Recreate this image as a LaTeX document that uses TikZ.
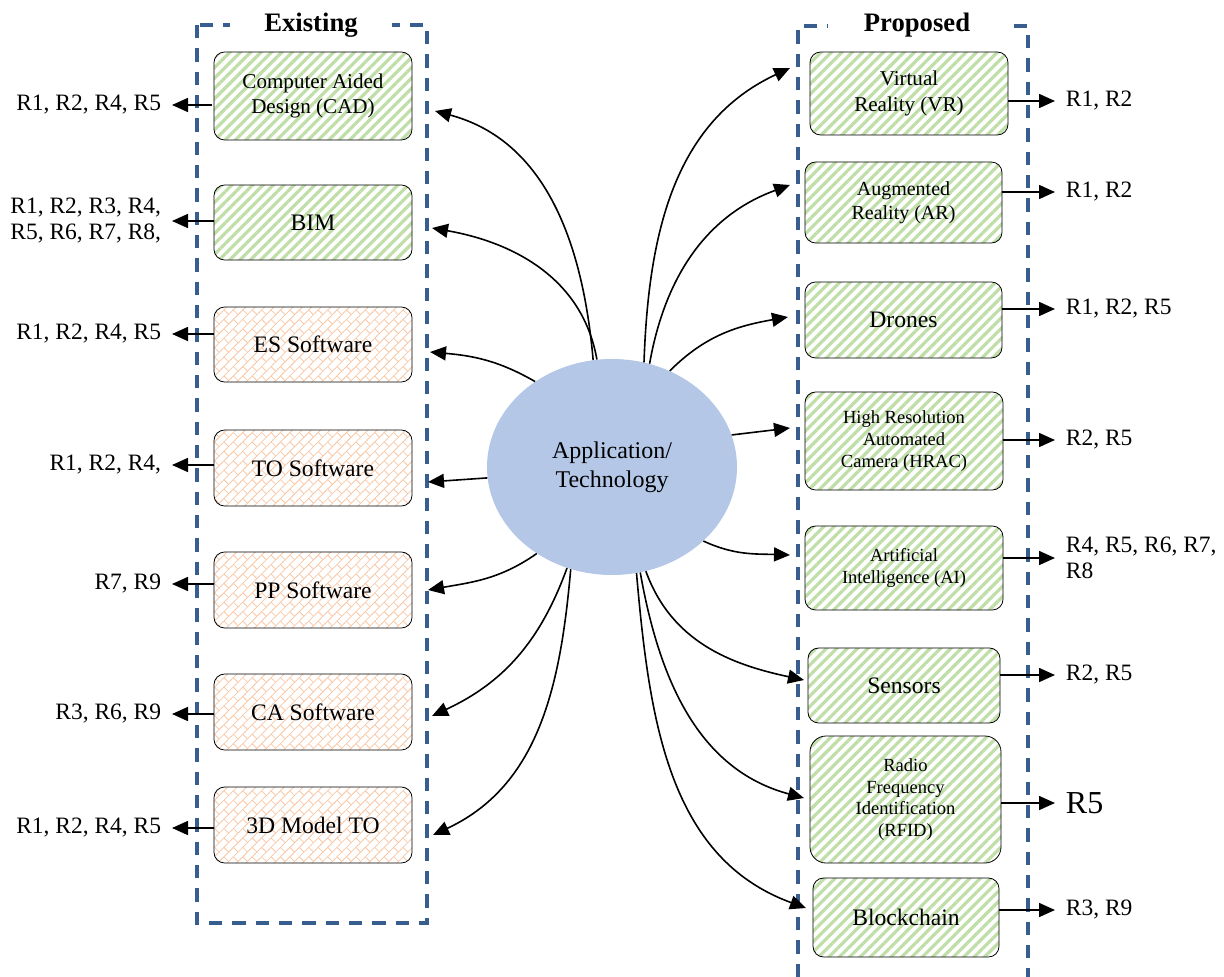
\documentclass[tikz,border=0pt]{standalone}
\usepackage{fontspec}
\setmainfont{Liberation Serif}
\usetikzlibrary{arrows.meta,patterns.meta,shapes.geometric}
\definecolor{stripegreen}{HTML}{BFDEA8}
\definecolor{brickorange}{HTML}{F8C9A8}
\definecolor{frameblue}{HTML}{385D8F}
\definecolor{ellblue}{HTML}{B4C7E7}
\newcommand\fsA{\rmfamily\fontsize{17.7pt}{20.5pt}\selectfont}
\newcommand\fsB{\rmfamily\fontsize{15.8pt}{18.8pt}\selectfont}
\newcommand\fsAR{\rmfamily\fontsize{15pt}{18pt}\selectfont}
\newcommand\fsC{\rmfamily\fontsize{13.9pt}{16.2pt}\selectfont}
\newcommand\fsL{\rmfamily\fontsize{17.6pt}{19.5pt}\selectfont}
\newcommand\fsE{\rmfamily\fontsize{18pt}{21.7pt}\selectfont}
\newcommand\fsBig{\rmfamily\fontsize{24pt}{28pt}\selectfont}
\newcommand\fsH{\rmfamily\fontsize{20pt}{24pt}\selectfont}
\tikzdeclarepattern{
  name=diagbrick,
  type=uncolored,
  bottom left={(-0.5pt,-0.5pt)},
  top right={(10.5pt,10.5pt)},
  tile size={(10pt,10pt)},
  tile transformation={rotate=45},
  code={
    \draw[line width=0.6pt] (-0.5pt,0pt) -- (10.5pt,0pt);
    \draw[line width=0.6pt] (-0.5pt,5pt) -- (10.5pt,5pt);
    \draw[line width=0.6pt] (2.5pt,0pt) -- (2.5pt,5pt);
    \draw[line width=0.6pt] (7.5pt,5pt) -- (7.5pt,10pt);
  }
}
\tikzset{
  wh/.style 2 args={minimum width=#1*0.75pt, minimum height=#2*0.75pt},
  gbox/.style={draw=black, line width=0.6pt, rounded corners=8pt,
    pattern={Lines[angle=45,distance=5.5pt,line width=2.4pt]}, pattern color=stripegreen,
    align=center, inner sep=0pt},
  obox/.style={draw=black, line width=0.6pt, rounded corners=8pt,
    pattern=diagbrick, pattern color=brickorange,
    align=center, inner sep=0pt, font=\fsA},
  lab/.style={font=\fsL, align=left, inner xsep=8pt, inner ysep=0pt},
  arr/.style={line width=1.2pt, -{Triangle[length=12pt,width=10.5pt]}},
  frame/.style={draw=frameblue, line width=2.3pt, dash pattern=on 10pt off 7.5pt},
  hdr/.style={fill=white, font=\fsH\bfseries, inner ysep=1pt, inner xsep=0pt},
}
\begin{document}
\begin{tikzpicture}[x=0.75pt,y=0.75pt]
\useasboundingbox (0,0) rectangle (1224,-977);
% frames
\draw[frame] (197,-25) rectangle (427,-923);
\draw[frame] (798,-977) -- (798,-26) -- (1028,-26) -- (1028,-977);
\node[hdr, anchor=base, minimum width=121.5pt] (hex) at (311,-32) {Existing};
\node[hdr, anchor=base, minimum width=134pt] (hpr) at (917,-32) {Proposed};
% left boxes
\node[gbox, wh={198}{88}, font=\fsB] (cad) at (313,-96) {Computer Aided\\Design (CAD)};
\node[gbox, wh={198}{75}, font=\fsA] (bim) at (313,-222.5) {BIM};
\node[obox, wh={198}{75}] (es) at (313,-344.5) {ES Software};
\node[obox, wh={198}{76}] (to) at (313,-468) {TO Software};
\node[obox, wh={198}{76}] (pp) at (313,-590) {PP Software};
\node[obox, wh={198}{76}] (ca) at (313,-712) {CA Software};
\node[obox, wh={198}{76}] (md) at (313,-825) {3D Model TO};
% right boxes
\node[gbox, wh={198}{83}, font=\fsB] (vr) at (909,-93.5) {Virtual\\Reality (VR)};
\node[gbox, wh={197}{81}, font=\fsAR] (ar) at (903.5,-202.5) {Augmented\\Reality (AR)};
\node[gbox, wh={197}{76}, font=\fsA] (dr) at (903.5,-320) {Drones};
\node[gbox, wh={198}{98}, font=\fsC] (hr) at (904,-441) {High Resolution\\Automated\\Camera (HRAC)};
\node[gbox, wh={198}{84}, font=\fsC] (ai) at (904,-568) {Artificial\\Intelligence (AI)};
\node[gbox, wh={192}{75}, font=\fsA] (se) at (904,-685.5) {Sensors};
\node[gbox, wh={191}{127}, font=\fsC, rounded corners=12pt] (rf) at (905.5,-799.5) {Radio\\Frequency\\Identification\\(RFID)};
\node[gbox, wh={186}{79}, font=\fsA] (bc) at (906,-917.5) {Blockchain};
% centre
\node[ellipse, fill=ellblue, minimum width=187.5pt, minimum height=162pt, inner sep=0pt, align=center, font=\fsE] (ell) at (612,-467) {Application/\\Technology};
% left labels
\node[lab, anchor=east] (lcad) at (172,-105) {R1, R2, R4, R5};
\node[lab, anchor=east] (lbim) at (172,-221) {R1, R2, R3, R4,\\R5, R6, R7, R8,};
\node[lab, anchor=east] (les) at (172,-334) {R1, R2, R4, R5};
\node[lab, anchor=east] (lto) at (172,-465) {R1, R2, R4,};
\node[lab, anchor=east] (lpp) at (172,-584) {R7, R9};
\node[lab, anchor=east] (lca) at (172,-714) {R3, R6, R9};
\node[lab, anchor=east] (lmd) at (172,-828) {R1, R2, R4, R5};
% right labels
\node[lab, anchor=west] (lvr) at (1055,-101) {R1, R2};
\node[lab, anchor=west] (lar) at (1055,-192) {R1, R2};
\node[lab, anchor=west] (ldr) at (1055,-309) {R1, R2, R5};
\node[lab, anchor=west] (lhr) at (1055,-440) {R2, R5};
\node[lab, anchor=west] (lai) at (1055,-558) {R4, R5, R6, R7,\\R8};
\node[lab, anchor=west] (lse) at (1055,-675) {R2, R5};
\node[lab, anchor=west, font=\fsBig] (lrf) at (1055,-803) {R5};
\node[lab, anchor=west] (lbc) at (1055,-910) {R3, R9};
% box to label arrows
\foreach \b/\l in {cad/lcad,bim/lbim,es/les,to/lto,pp/lpp,ca/lca,md/lmd}
  \draw[arr] (\b.west |- \l.east) -- (\l.east);
\foreach \b/\l in {vr/lvr,ar/lar,dr/ldr,hr/lhr,ai/lai,se/lse,rf/lrf,bc/lbc}
  \draw[arr] (\b.east |- \l.west) -- (\l.west);
% tip points
\coordinate (tcad) at (435,-111);
\coordinate (tbim) at (432,-228);
\coordinate (tes) at (430,-352);
\coordinate (tto) at (428,-482);
\coordinate (tpp) at (428,-590);
\coordinate (tca) at (432,-716);
\coordinate (tmd) at (433,-835);
\coordinate (tvr) at (790,-68);
\coordinate (tar) at (790,-185);
\coordinate (tdr) at (788,-317);
\coordinate (thr) at (790,-428);
\coordinate (tai) at (790,-555);
\coordinate (tse) at (804,-680);
\coordinate (trf) at (804,-798);
\coordinate (tbc) at (806,-908);
% curves
\draw[arr] (ell.100) to[out=95,in=-15] (tcad);
\draw[arr] (ell.98) to[out=100,in=-10] (tbim);
\draw[arr] (ell.132) to[out=150,in=-5] (tes);
\draw[arr] (ell.185) -- (tto);
\draw[arr] (ell.229) to[out=215,in=10] (tpp);
\draw[arr] (ell.246) to[out=250,in=25] (tca);
\draw[arr] (ell.248) to[out=265,in=25] (tmd);
\draw[arr] (ell.73) to[out=88,in=205] (tvr);
\draw[arr] (ell.70) to[out=80,in=200] (tar);
\draw[arr] (ell.59) to[out=45,in=190] (tdr);
\draw[arr] (ell.15) -- (thr);
\draw[arr] (ell.-39) to[out=-25,in=178] (tai);
\draw[arr] (ell.-72) to[out=-70,in=168] (tse);
\draw[arr] (ell.-75) to[out=-80,in=165] (trf);
\draw[arr] (ell.-77) to[out=-85,in=160] (tbc);
\end{tikzpicture}
\end{document}
